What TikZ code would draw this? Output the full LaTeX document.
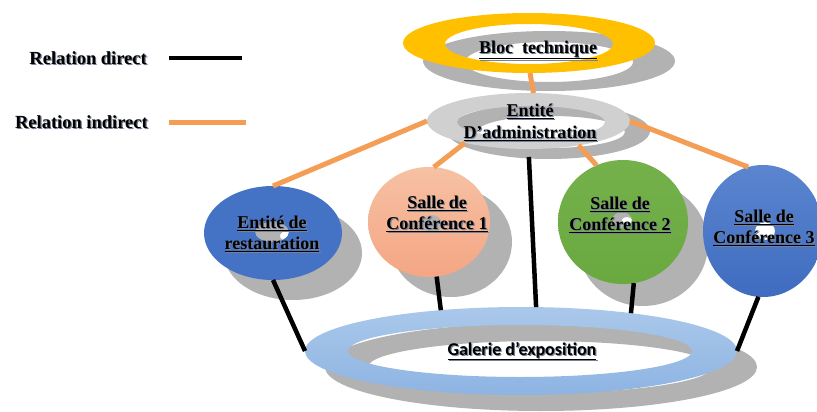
\documentclass[tikz,border=0pt]{standalone}
\usepackage{fontspec}
\setmainfont{Liberation Serif}
\newfontfamily\calibri{Carlito}
\usetikzlibrary{shapes.geometric}
\definecolor{ringyellow}{HTML}{FFC000}
\definecolor{shadowgrey}{RGB}{178,178,178}
\definecolor{adminring}{RGB}{208,208,208}
\definecolor{blueA}{HTML}{4472C4}
\definecolor{blueTop}{HTML}{5B85CF}
\definecolor{blueBot}{HTML}{3F6CC0}
\definecolor{salmonTop}{HTML}{F6C1A3}
\definecolor{salmonBot}{HTML}{F4A684}
\definecolor{greenTop}{HTML}{74B14B}
\definecolor{greenBot}{HTML}{6AA840}
\definecolor{galTop}{HTML}{AAC8EA}
\definecolor{galBot}{HTML}{8EB4E3}
\definecolor{orangeline}{RGB}{244,157,85}
\definecolor{txtshadow}{RGB}{120,130,150}
\newcommand\shlabel[4]{% #1 name, #2 x, #3 y, #4 text
  \node[lbl, text=txtshadow] at (#2+1.2,#3+1.2) {#4};
  \node[lbl] (#1) at (#2,#3) {#4};}
\newcommand\shgal[4]{%
  \node[lbl, font=\calibri\bfseries\fontsize{18}{21}\selectfont, text=txtshadow] at (#2+1.2,#3+1.2) {#4};
  \node[lbl, font=\calibri\bfseries\fontsize{18}{21}\selectfont] (#1) at (#2,#3) {#4};}
\begin{document}
\begin{tikzpicture}[x=1pt,y=-1pt,
  anc/.style={ellipse, inner sep=0pt, outer sep=0pt, draw=none},
  lbl/.style={font=\bfseries\fontsize{18}{21}\selectfont, align=center, inner sep=0pt},
  legtxt/.style={font=\bfseries\fontsize{18.5}{22}\selectfont, inner sep=0pt, anchor=east},
  direct/.style={draw=black, line width=4.5pt},
  indirect/.style={draw=orangeline, line width=5pt}]
\useasboundingbox (0,0) rectangle (817,412);
\fill[white] (0,0) rectangle (817,412);

% ---- Bloc technique ring
\fill[shadowgrey, even odd rule] (549,61) ellipse [x radius=126pt, y radius=30pt]
   (549,62) ellipse [x radius=84pt, y radius=20pt];
\fill[ringyellow, even odd rule] (529,43) ellipse [x radius=126pt, y radius=30pt]
   (529,44) ellipse [x radius=84pt, y radius=20pt];
\node[anc, minimum width=252pt, minimum height=60pt] (bloc) at (529,43) {};

% ---- Administration ring
\fill[shadowgrey, even odd rule] (548.5,131) ellipse [x radius=101.5pt, y radius=28pt]
   (551,132) ellipse [x radius=74pt, y radius=16pt];
\fill[adminring, even odd rule] (528.5,121) ellipse [x radius=101.5pt, y radius=28pt]
   (531,122) ellipse [x radius=74pt, y radius=16pt];
\node[anc, minimum width=203pt, minimum height=56pt] (admin) at (528.5,121) {};

% ---- shadows of the round rooms
\fill[shadowgrey, even odd rule] (293,253) ellipse [x radius=69pt, y radius=47pt]
   (287,236) ellipse [x radius=7pt, y radius=5pt];
\fill[shadowgrey] (451,242) ellipse [x radius=61pt, y radius=55pt];
\fill[shadowgrey, even odd rule] (643,244) ellipse [x radius=65pt, y radius=62pt]
   (627,222) ellipse [x radius=6pt, y radius=5pt];
% ---- shadow of the gallery
\fill[shadowgrey, even odd rule] (541,367) ellipse [x radius=216pt, y radius=44pt]
   (540,367) ellipse [x radius=172pt, y radius=26pt];

% ---- round rooms
\fill[blueA, even odd rule] (273,233) ellipse [x radius=69pt, y radius=47pt]
   (272,232) ellipse [x radius=17pt, y radius=10pt];
\node[anc, minimum width=138pt, minimum height=94pt] (resto) at (273,233) {};

\shade[top color=salmonTop, bottom color=salmonBot, even odd rule] (429,222) ellipse [x radius=61pt, y radius=55pt]
   (432,224) ellipse [x radius=10pt, y radius=9pt];
\node[anc, minimum width=122pt, minimum height=110pt] (conf1) at (429,222) {};

\shade[top color=greenTop, bottom color=greenBot, even odd rule] (623,222) ellipse [x radius=65pt, y radius=62pt]
   (622,220) ellipse [x radius=10pt, y radius=8pt];
\node[anc, minimum width=130pt, minimum height=124pt] (conf2) at (623,222) {};

\shade[top color=blueTop, bottom color=blueBot, even odd rule] (763,231) ellipse [x radius=60pt, y radius=66pt]
   (765,231) ellipse [x radius=10pt, y radius=9pt];
\node[anc, minimum width=120pt, minimum height=132pt] (conf3) at (763,231) {};

% ---- gallery ring
\shade[top color=galTop, bottom color=galBot, even odd rule] (521,351) ellipse [x radius=216pt, y radius=44pt]
   (520,351) ellipse [x radius=172pt, y radius=26pt];
\node[anc, minimum width=432pt, minimum height=88pt] (gal) at (521,351) {};

% ---- indirect relations
\draw[indirect] (bloc.-88) -- (admin.80);
\draw[indirect] (admin.180) -- (resto.90);
\draw[indirect] (admin.199) -- (conf1.85);
\draw[indirect] (admin.334) -- (conf2.115);
\draw[indirect] (admin.0) -- (conf3.103);

% ---- direct relations
\draw[direct] (resto.270) -- (gal.180);
\draw[direct] (conf1.-82) -- (gal.153);
\draw[direct, shorten <=8pt] (admin.270) -- (gal.71);
\draw[direct] (conf2.-80) -- (gal.19);
\draw[direct] (conf3.-94) -- (gal.0);

% ---- labels
\shlabel{tbloc}{538}{50}{\underline{Bloc\ \ technique}}
\shlabel{tadmin}{530}{122}{\underline{Entité}\\[1pt]\underline{D’administration}}
\shlabel{tresto}{272}{234}{\underline{Entité de}\\\underline{restauration}}
\shlabel{tconf1}{437}{214}{\underline{Salle de}\\\underline{Conférence 1}}
\shlabel{tconf2}{620}{215}{\underline{Salle de}\\\underline{Conférence 2}}
\shlabel{tconf3}{764}{228}{\underline{Salle de}\\\underline{Conférence 3}}
\shgal{tgal}{522}{351}{\underline{Galerie d’exposition}}

% ---- legend
\node[legtxt, text=txtshadow] at (148.2,59.2) {Relation direct};
\node[legtxt] (ldir) at (147,58) {Relation direct};
\node[legtxt, text=txtshadow] at (149.2,123.2) {Relation indirect};
\node[legtxt] (lind) at (148,122) {Relation indirect};
\coordinate (ld1) at (169,58);
\coordinate (ld2) at (242,58);
\coordinate (li1) at (169,122);
\coordinate (li2) at (246,122);
\draw[direct] (ld1) -- (ld2);
\draw[indirect] (li1) -- (li2);
\end{tikzpicture}
\end{document}
